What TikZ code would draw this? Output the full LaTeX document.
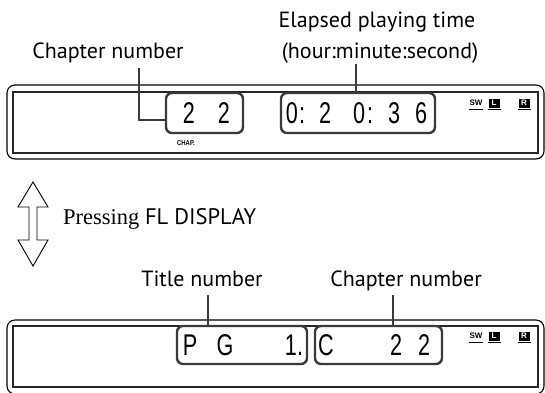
\documentclass[tikz,border=0pt]{standalone}
\usepackage{fontspec}
\setmainfont{Liberation Serif}
\newfontfamily\lblfont{PT Sans}
\newfontfamily\segfont{Liberation Sans}
\newfontfamily\tinyfont{Liberation Sans}
\definecolor{boxgray}{HTML}{3A3A3A}
\tikzset{
  lbl/.style={font=\lblfont\fontsize{22}{24}\selectfont, anchor=base, inner sep=0pt},
  outerbox/.style={draw=black, line width=1.1pt, rounded corners=8pt},
  innerbox/.style={draw=black!85, line width=1.4pt},
  numbox/.style={draw=boxgray, line width=2.4pt, rounded corners=6pt, inner sep=0pt},
  leader/.style={draw=boxgray, line width=2pt},
  seg/.style={font=\segfont\fontsize{30}{30}\selectfont, anchor=base, inner sep=0pt, xscale=0.72},
  ind/.style={font=\tinyfont\bfseries\fontsize{8}{8}\selectfont, inner sep=0pt},
  sq/.style={fill=black, minimum width=11pt, minimum height=9pt, inner sep=0pt, text=white, font=\tinyfont\bfseries\fontsize{8}{8}\selectfont},
}
\begin{document}
\begin{tikzpicture}[x=1pt,y=-1pt]
\useasboundingbox (0,0) rectangle (545,392);
% ---------- top display ----------
\draw[outerbox] (7,85) rectangle (544,159);
\draw[innerbox] (13,92) rectangle (538,153);
\node[numbox, minimum width=77pt, minimum height=40pt] (boxA) at (204.5,113) {};
\node[numbox, minimum width=154pt, minimum height=40pt] (boxT) at (358,113) {};
\node[seg] (a1) at (189,123) {2};
\node[seg] (a2) at (224,123) {2};
\node[font=\tinyfont\bfseries\fontsize{7}{7}\selectfont, inner sep=0pt, xscale=0.85] (chap) at (186,143) {CHAP.};
\node[seg] (t1) at (292,123) {0};
\node[seg] (t2) at (302,123) {:};
\node[seg] (t3) at (325,123) {2};
\node[seg] (t4) at (359,123) {0};
\node[seg] (t5) at (370,123) {:};
\node[seg] (t6) at (394,123) {3};
\node[seg] (t7) at (421,123) {6};
% indicators top
\node[ind] (swA) at (476,103) {SW};
\node[sq] (lA) at (494,103) {L};
\node[sq] (rA) at (524,103) {R};
\draw[line width=1.6pt] (469,109.5) -- (483,109.5) (487.5,109.5) -- (500.5,109.5) (517.5,109.5) -- (530.5,109.5);
% labels top
\node[lbl] (chapL) at (108,58) {Chapter number};
\node[lbl] (elap1) at (377,27) {Elapsed playing time};
\node[lbl] (elap2) at (380,58) {(hour:minute:second)};
\coordinate (cA) at (139,68);
\coordinate (cT) at (356,64);
\draw[leader] (cA) |- ([yshift=-7pt]boxA.west);
\draw[leader] (cT) -- (cT |- boxT.north);
% ---------- arrow ----------
\draw[line width=0.9pt, line join=miter] (33,182) -- (48,207) -- (37,207) -- (37,240) -- (48,240) -- (33,266) -- (18,240) -- (29,240) -- (29,207) -- (18,207) -- cycle;
\node[anchor=base west, inner sep=0pt, font=\fontsize{22.5}{24}\selectfont] (press) at (63,224) {Pressing {\lblfont FL DISPLAY}};
% ---------- bottom display ----------
\draw[outerbox] (7,320) rectangle (544,394);
\draw[innerbox] (13,326) rectangle (538,387);
\node[numbox, minimum width=130pt, minimum height=38pt] (boxP) at (242,345) {};
\node[numbox, minimum width=127pt, minimum height=38pt] (boxC) at (378.5,345) {};
\node[seg] (p1) at (190,355) {P};
\node[seg] (p2) at (225,355) {G};
\node[seg] (p3) at (294,355) {1.};
\node[seg] (c1) at (326,355) {C};
\node[seg] (c2) at (396,355) {2};
\node[seg] (c3) at (424,355) {2};
\node[ind] (swB) at (476,336) {SW};
\node[sq] (lB) at (494,336) {L};
\node[sq] (rB) at (524,336) {R};
\draw[line width=1.6pt] (469,342.5) -- (483,342.5) (487.5,342.5) -- (500.5,342.5) (517.5,342.5) -- (530.5,342.5);
\node[lbl] (titleL) at (202,286) {Title number};
\node[lbl] (chapL2) at (406,286) {Chapter number};
\coordinate (cP) at (208,295);
\coordinate (cC) at (393,295);
\draw[leader] (cP) -- (cP |- boxP.north);
\draw[leader] (cC) -- (cC |- boxC.north);
\end{tikzpicture}
\end{document}
